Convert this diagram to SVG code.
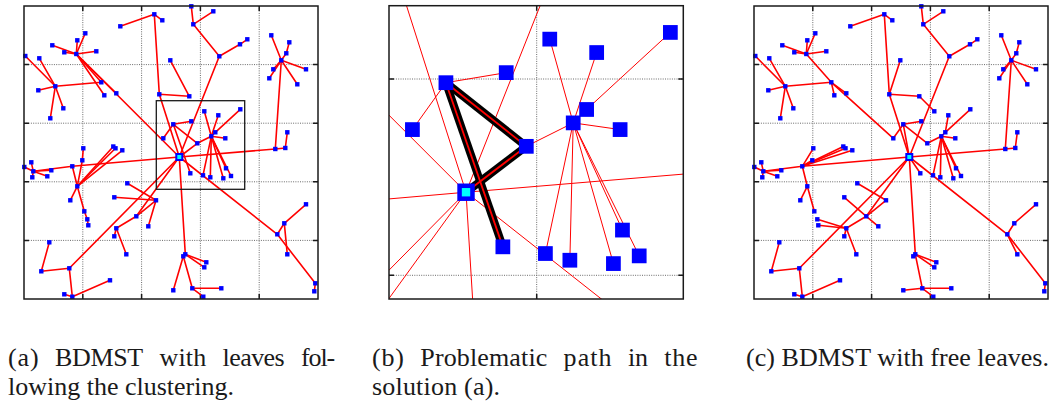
<svg xmlns="http://www.w3.org/2000/svg" xmlns:xlink="http://www.w3.org/1999/xlink" width="1056" height="407" viewBox="0 0 1056 407">
<style>
line{vector-effect:non-scaling-stroke}
.ed{stroke:#ff0000;stroke-linecap:round}
.gr{stroke:#6a6a6a;stroke-width:1;stroke-dasharray:1 1.3;fill:none}
.fr{fill:none;stroke:#1a1a1a;stroke-width:1.5}
.tk{stroke:#1a1a1a;stroke-width:1.5}
.nd{fill:#0000ff}
.cap{font-family:"Liberation Serif","Times New Roman",serif;font-size:26px;fill:#1a1a1a}
</style>
<defs>
<rect id="sq" class="nd" x="-2.2" y="-2.2" width="4.4" height="4.4"/>
<g id="nodes">
<use href="#sq" x="191.3" y="6.3"/><use href="#sq" x="213.3" y="11.3"/><use href="#sq" x="154.3" y="14.3"/><use href="#sq" x="162.3" y="20.3"/><use href="#sq" x="193.3" y="24.3"/><use href="#sq" x="120.3" y="26.3"/><use href="#sq" x="85.3" y="33.3"/><use href="#sq" x="77.3" y="40.3"/><use href="#sq" x="247.3" y="39.3"/><use href="#sq" x="240" y="44.3"/>
<use href="#sq" x="271.3" y="35.3"/><use href="#sq" x="289.3" y="42.3"/><use href="#sq" x="52.3" y="45.3"/><use href="#sq" x="64.3" y="52.3"/><use href="#sq" x="76.3" y="54"/><use href="#sq" x="96.3" y="51.3"/><use href="#sq" x="25.3" y="56"/><use href="#sq" x="39.3" y="58.3"/><use href="#sq" x="219.3" y="56.3"/><use href="#sq" x="286.3" y="53.3"/>
<use href="#sq" x="281.3" y="60.3"/><use href="#sq" x="170.3" y="60.3"/><use href="#sq" x="306" y="69.3"/><use href="#sq" x="273.3" y="69.3"/><use href="#sq" x="269.3" y="78.3"/><use href="#sq" x="297.3" y="84.3"/><use href="#sq" x="101.3" y="82.3"/><use href="#sq" x="55.3" y="86.3"/><use href="#sq" x="38.3" y="90.3"/><use href="#sq" x="104.3" y="95.3"/>
<use href="#sq" x="116.3" y="93.3"/><use href="#sq" x="159.3" y="94.3"/><use href="#sq" x="189.3" y="96.3"/><use href="#sq" x="63.3" y="108.3"/><use href="#sq" x="204.3" y="111.3"/><use href="#sq" x="240.3" y="109.3"/><use href="#sq" x="218.3" y="115.3"/><use href="#sq" x="50.3" y="118.3"/><use href="#sq" x="191.3" y="121.3"/><use href="#sq" x="173.3" y="124.3"/>
<use href="#sq" x="215.3" y="132.3"/><use href="#sq" x="211.3" y="136.3"/><use href="#sq" x="225.3" y="138.3"/><use href="#sq" x="163.3" y="138.3"/><use href="#sq" x="197.3" y="143.3"/><use href="#sq" x="287.3" y="132.3"/><use href="#sq" x="83.3" y="148.3"/><use href="#sq" x="113.3" y="146.5"/><use href="#sq" x="115.5" y="148.3"/><use href="#sq" x="122.3" y="150.3"/>
<use href="#sq" x="275.3" y="149"/><use href="#sq" x="285.3" y="148"/><use href="#sq" x="24.3" y="167"/><use href="#sq" x="31.3" y="162.3"/><use href="#sq" x="33.3" y="171.3"/><use href="#sq" x="32.3" y="177.3"/><use href="#sq" x="51.3" y="170.3"/><use href="#sq" x="47.3" y="176.3"/><use href="#sq" x="72.3" y="166.3"/><use href="#sq" x="82.3" y="160.3"/>
<use href="#sq" x="77.3" y="186.3"/><use href="#sq" x="70.3" y="200.3"/><use href="#sq" x="84.3" y="211.3"/><use href="#sq" x="87.3" y="219.3"/><use href="#sq" x="88.3" y="225.3"/><use href="#sq" x="127.3" y="183.3"/><use href="#sq" x="114.3" y="197.3"/><use href="#sq" x="156" y="200.3"/><use href="#sq" x="136.3" y="216.3"/><use href="#sq" x="148.3" y="226.3"/>
<use href="#sq" x="116.3" y="228.3"/><use href="#sq" x="114.3" y="236.3"/><use href="#sq" x="126.3" y="254.3"/><use href="#sq" x="190.3" y="173.3"/><use href="#sq" x="203" y="175.3"/><use href="#sq" x="210.3" y="177.3"/><use href="#sq" x="223.3" y="178.3"/><use href="#sq" x="226" y="168.3"/><use href="#sq" x="231" y="176"/><use href="#sq" x="306" y="204.3"/>
<use href="#sq" x="284.3" y="223.3"/><use href="#sq" x="277.3" y="234.3"/><use href="#sq" x="287.3" y="254.3"/><use href="#sq" x="315.3" y="283.3"/><use href="#sq" x="314.3" y="291.3"/><use href="#sq" x="49.3" y="242.3"/><use href="#sq" x="41.3" y="271.3"/><use href="#sq" x="69.3" y="268.3"/><use href="#sq" x="64.3" y="294.3"/><use href="#sq" x="72.3" y="296.7"/>
<use href="#sq" x="110" y="280.3"/><use href="#sq" x="185.3" y="254.3"/><use href="#sq" x="183.3" y="256.3"/><use href="#sq" x="206.3" y="262.3"/><use href="#sq" x="204.3" y="267.3"/><use href="#sq" x="173.3" y="290.3"/><use href="#sq" x="192.3" y="288.3"/><use href="#sq" x="221.3" y="288.3"/><use href="#sq" x="203.3" y="296.7"/>
</g>
<g id="ea" class="ed">
<line x1="191.3" y1="6.3" x2="193.3" y2="24.3"/><line x1="213.3" y1="11.3" x2="193.3" y2="24.3"/><line x1="193.3" y1="24.3" x2="219.3" y2="56.3"/><line x1="219.3" y1="56.3" x2="240" y2="44.3"/><line x1="240" y1="44.3" x2="247.3" y2="39.3"/><line x1="219.3" y1="56.3" x2="179.3" y2="157"/>
<line x1="154.3" y1="14.3" x2="120.3" y2="26.3"/><line x1="154.3" y1="14.3" x2="162.3" y2="20.3"/><line x1="154.3" y1="14.3" x2="159.3" y2="94.3"/><line x1="170.3" y1="60.3" x2="189.3" y2="96.3"/><line x1="159.3" y1="94.3" x2="189.3" y2="96.3"/><line x1="159.3" y1="94.3" x2="179.3" y2="157"/>
<line x1="76.3" y1="54" x2="52.3" y2="45.3"/><line x1="76.3" y1="54" x2="64.3" y2="52.3"/><line x1="76.3" y1="54" x2="96.3" y2="51.3"/><line x1="76.3" y1="54" x2="77.3" y2="40.3"/><line x1="76.3" y1="54" x2="85.3" y2="33.3"/><line x1="76.3" y1="54" x2="101.3" y2="82.3"/><line x1="76.3" y1="54" x2="104.3" y2="95.3"/><line x1="76.3" y1="54" x2="116.3" y2="93.3"/><line x1="76.3" y1="54" x2="179.3" y2="157"/>
<line x1="55.3" y1="86.3" x2="25.3" y2="56"/><line x1="55.3" y1="86.3" x2="39.3" y2="58.3"/><line x1="55.3" y1="86.3" x2="38.3" y2="90.3"/><line x1="55.3" y1="86.3" x2="63.3" y2="108.3"/><line x1="55.3" y1="86.3" x2="50.3" y2="118.3"/><line x1="55.3" y1="86.3" x2="101.3" y2="82.3"/>
<line x1="281.3" y1="60.3" x2="271.3" y2="35.3"/><line x1="281.3" y1="60.3" x2="286.3" y2="53.3"/><line x1="286.3" y1="53.3" x2="289.3" y2="42.3"/><line x1="281.3" y1="60.3" x2="306" y2="69.3"/><line x1="281.3" y1="60.3" x2="273.3" y2="69.3"/><line x1="281.3" y1="60.3" x2="269.3" y2="78.3"/><line x1="281.3" y1="60.3" x2="297.3" y2="84.3"/><line x1="281.3" y1="60.3" x2="275.3" y2="149"/><line x1="275.3" y1="149" x2="285.3" y2="148"/><line x1="285.3" y1="148" x2="287.3" y2="132.3"/><line x1="179.3" y1="157" x2="275.3" y2="149"/>
<line x1="173.3" y1="124.3" x2="191.3" y2="121.3"/><line x1="173.3" y1="124.3" x2="163.3" y2="138.3"/><line x1="173.3" y1="124.3" x2="197.3" y2="143.3"/><line x1="173.3" y1="124.3" x2="190.3" y2="173.3"/><line x1="197.3" y1="143.3" x2="179.3" y2="157"/><line x1="197.3" y1="143.3" x2="211.3" y2="136.3"/>
<line x1="211.3" y1="136.3" x2="215.3" y2="132.3"/><line x1="211.3" y1="136.3" x2="225.3" y2="138.3"/><line x1="211.3" y1="136.3" x2="204.3" y2="111.3"/><line x1="211.3" y1="136.3" x2="218.3" y2="115.3"/><line x1="215.3" y1="132.3" x2="240.3" y2="109.3"/>
<line x1="211.3" y1="136.3" x2="203" y2="175.3"/><line x1="211.3" y1="136.3" x2="210.3" y2="177.3"/><line x1="211.3" y1="136.3" x2="223.3" y2="178.3"/><line x1="211.3" y1="136.3" x2="226" y2="168.3"/><line x1="211.3" y1="136.3" x2="231" y2="176"/>
<line x1="24.3" y1="167" x2="33.3" y2="171.3"/><line x1="31.3" y1="162.3" x2="33.3" y2="171.3"/><line x1="33.3" y1="171.3" x2="32.3" y2="177.3"/><line x1="33.3" y1="171.3" x2="51.3" y2="170.3"/><line x1="33.3" y1="171.3" x2="47.3" y2="176.3"/><line x1="33.3" y1="171.3" x2="72.3" y2="166.3"/><line x1="72.3" y1="166.3" x2="179.3" y2="157"/>
<line x1="77.3" y1="186.3" x2="72.3" y2="166.3"/><line x1="77.3" y1="186.3" x2="82.3" y2="160.3"/><line x1="82.3" y1="160.3" x2="83.3" y2="148.3"/><line x1="77.3" y1="186.3" x2="70.3" y2="200.3"/><line x1="77.3" y1="186.3" x2="84.3" y2="211.3"/><line x1="84.3" y1="211.3" x2="87.3" y2="219.3"/><line x1="87.3" y1="219.3" x2="88.3" y2="225.3"/><line x1="77.3" y1="186.3" x2="113.3" y2="146.5"/><line x1="77.3" y1="186.3" x2="115.5" y2="148.3"/><line x1="77.3" y1="186.3" x2="122.3" y2="150.3"/>
<line x1="127.3" y1="183.3" x2="156" y2="200.3"/><line x1="114.3" y1="197.3" x2="156" y2="200.3"/><line x1="156" y1="200.3" x2="148.3" y2="226.3"/><line x1="156" y1="200.3" x2="136.3" y2="216.3"/><line x1="136.3" y1="216.3" x2="116.3" y2="228.3"/><line x1="116.3" y1="228.3" x2="114.3" y2="236.3"/><line x1="116.3" y1="228.3" x2="126.3" y2="254.3"/><line x1="179.3" y1="157" x2="136.3" y2="216.3"/>
<line x1="179.3" y1="157" x2="69.3" y2="268.3"/><line x1="49.3" y1="242.3" x2="41.3" y2="271.3"/><line x1="41.3" y1="271.3" x2="69.3" y2="268.3"/><line x1="69.3" y1="268.3" x2="72.3" y2="296.7"/><line x1="64.3" y1="294.3" x2="72.3" y2="296.7"/><line x1="72.3" y1="296.7" x2="110" y2="280.3"/>
<line x1="179.3" y1="157" x2="185.3" y2="254.3"/><line x1="185.3" y1="254.3" x2="183.3" y2="256.3"/><line x1="185.3" y1="254.3" x2="206.3" y2="262.3"/><line x1="185.3" y1="254.3" x2="204.3" y2="267.3"/><line x1="183.3" y1="256.3" x2="173.3" y2="290.3"/><line x1="183.3" y1="256.3" x2="192.3" y2="288.3"/><line x1="192.3" y1="288.3" x2="221.3" y2="288.3"/><line x1="192.3" y1="288.3" x2="203.3" y2="296.7"/>
<line x1="179.3" y1="157" x2="277.3" y2="234.3"/><line x1="277.3" y1="234.3" x2="284.3" y2="223.3"/><line x1="284.3" y1="223.3" x2="306" y2="204.3"/><line x1="284.3" y1="223.3" x2="287.3" y2="254.3"/><line x1="277.3" y1="234.3" x2="315.3" y2="283.3"/><line x1="315.3" y1="283.3" x2="314.3" y2="291.3"/>
</g>
<g id="ec" class="ed">
<line x1="191.3" y1="6.3" x2="193.3" y2="24.3"/><line x1="213.3" y1="11.3" x2="193.3" y2="24.3"/><line x1="193.3" y1="24.3" x2="219.3" y2="56.3"/><line x1="219.3" y1="56.3" x2="240" y2="44.3"/><line x1="240" y1="44.3" x2="247.3" y2="39.3"/><line x1="219.3" y1="56.3" x2="179.3" y2="157"/>
<line x1="154.3" y1="14.3" x2="120.3" y2="26.3"/><line x1="154.3" y1="14.3" x2="162.3" y2="20.3"/><line x1="154.3" y1="14.3" x2="159.3" y2="94.3"/><line x1="170.3" y1="60.3" x2="159.3" y2="94.3"/><line x1="159.3" y1="94.3" x2="189.3" y2="96.3"/><line x1="189.3" y1="96.3" x2="204.3" y2="111.3"/><line x1="159.3" y1="94.3" x2="179.3" y2="157"/>
<line x1="76.3" y1="54" x2="52.3" y2="45.3"/><line x1="76.3" y1="54" x2="64.3" y2="52.3"/><line x1="76.3" y1="54" x2="96.3" y2="51.3"/><line x1="76.3" y1="54" x2="77.3" y2="40.3"/><line x1="76.3" y1="54" x2="85.3" y2="33.3"/><line x1="76.3" y1="54" x2="101.3" y2="82.3"/><line x1="101.3" y1="82.3" x2="104.3" y2="95.3"/><line x1="101.3" y1="82.3" x2="116.3" y2="93.3"/><line x1="101.3" y1="82.3" x2="163.3" y2="138.3"/>
<line x1="55.3" y1="86.3" x2="25.3" y2="56"/><line x1="55.3" y1="86.3" x2="39.3" y2="58.3"/><line x1="55.3" y1="86.3" x2="38.3" y2="90.3"/><line x1="55.3" y1="86.3" x2="63.3" y2="108.3"/><line x1="55.3" y1="86.3" x2="50.3" y2="118.3"/><line x1="55.3" y1="86.3" x2="101.3" y2="82.3"/>
<line x1="281.3" y1="60.3" x2="271.3" y2="35.3"/><line x1="281.3" y1="60.3" x2="286.3" y2="53.3"/><line x1="286.3" y1="53.3" x2="289.3" y2="42.3"/><line x1="281.3" y1="60.3" x2="306" y2="69.3"/><line x1="281.3" y1="60.3" x2="273.3" y2="69.3"/><line x1="281.3" y1="60.3" x2="269.3" y2="78.3"/><line x1="281.3" y1="60.3" x2="297.3" y2="84.3"/><line x1="281.3" y1="60.3" x2="275.3" y2="149"/><line x1="275.3" y1="149" x2="285.3" y2="148"/><line x1="285.3" y1="148" x2="287.3" y2="132.3"/><line x1="179.3" y1="157" x2="275.3" y2="149"/>
<line x1="163.3" y1="138.3" x2="173.3" y2="124.3"/><line x1="173.3" y1="124.3" x2="191.3" y2="121.3"/><line x1="173.3" y1="124.3" x2="197.3" y2="143.3"/><line x1="173.3" y1="124.3" x2="179.3" y2="157"/><line x1="197.3" y1="143.3" x2="211.3" y2="136.3"/>
<line x1="211.3" y1="136.3" x2="215.3" y2="132.3"/><line x1="211.3" y1="136.3" x2="225.3" y2="138.3"/><line x1="215.3" y1="132.3" x2="218.3" y2="115.3"/><line x1="215.3" y1="132.3" x2="240.3" y2="109.3"/>
<line x1="179.3" y1="157" x2="190.3" y2="173.3"/><line x1="211.3" y1="136.3" x2="203" y2="175.3"/><line x1="211.3" y1="136.3" x2="210.3" y2="177.3"/><line x1="211.3" y1="136.3" x2="223.3" y2="178.3"/><line x1="211.3" y1="136.3" x2="226" y2="168.3"/><line x1="211.3" y1="136.3" x2="231" y2="176"/>
<line x1="24.3" y1="167" x2="33.3" y2="171.3"/><line x1="31.3" y1="162.3" x2="33.3" y2="171.3"/><line x1="33.3" y1="171.3" x2="32.3" y2="177.3"/><line x1="33.3" y1="171.3" x2="51.3" y2="170.3"/><line x1="33.3" y1="171.3" x2="47.3" y2="176.3"/><line x1="33.3" y1="171.3" x2="72.3" y2="166.3"/><line x1="72.3" y1="166.3" x2="179.3" y2="157"/>
<line x1="72.3" y1="166.3" x2="77.3" y2="186.3"/><line x1="72.3" y1="166.3" x2="82.3" y2="160.3"/><line x1="72.3" y1="166.3" x2="83.3" y2="148.3"/><line x1="72.3" y1="166.3" x2="113.3" y2="146.5"/><line x1="72.3" y1="166.3" x2="115.5" y2="148.3"/><line x1="72.3" y1="166.3" x2="122.3" y2="150.3"/><line x1="77.3" y1="186.3" x2="70.3" y2="200.3"/><line x1="77.3" y1="186.3" x2="84.3" y2="211.3"/>
<line x1="87.3" y1="219.3" x2="116.3" y2="228.3"/><line x1="88.3" y1="225.3" x2="116.3" y2="228.3"/><line x1="116.3" y1="228.3" x2="114.3" y2="236.3"/><line x1="116.3" y1="228.3" x2="126.3" y2="254.3"/><line x1="136.3" y1="216.3" x2="116.3" y2="228.3"/><line x1="114.3" y1="197.3" x2="136.3" y2="216.3"/><line x1="136.3" y1="216.3" x2="148.3" y2="226.3"/><line x1="136.3" y1="216.3" x2="156" y2="200.3"/><line x1="127.3" y1="183.3" x2="156" y2="200.3"/><line x1="179.3" y1="157" x2="136.3" y2="216.3"/>
<line x1="179.3" y1="157" x2="69.3" y2="268.3"/><line x1="49.3" y1="242.3" x2="41.3" y2="271.3"/><line x1="41.3" y1="271.3" x2="69.3" y2="268.3"/><line x1="69.3" y1="268.3" x2="72.3" y2="296.7"/><line x1="64.3" y1="294.3" x2="72.3" y2="296.7"/><line x1="72.3" y1="296.7" x2="110" y2="280.3"/>
<line x1="179.3" y1="157" x2="185.3" y2="254.3"/><line x1="185.3" y1="254.3" x2="183.3" y2="256.3"/><line x1="185.3" y1="254.3" x2="206.3" y2="262.3"/><line x1="185.3" y1="254.3" x2="204.3" y2="267.3"/><line x1="185.3" y1="254.3" x2="192.3" y2="288.3"/><line x1="173.3" y1="290.3" x2="192.3" y2="288.3"/><line x1="192.3" y1="288.3" x2="221.3" y2="288.3"/><line x1="192.3" y1="288.3" x2="203.3" y2="296.7"/>
<line x1="179.3" y1="157" x2="277.3" y2="234.3"/><line x1="277.3" y1="234.3" x2="284.3" y2="223.3"/><line x1="284.3" y1="223.3" x2="306" y2="204.3"/><line x1="277.3" y1="234.3" x2="287.3" y2="254.3"/><line x1="277.3" y1="234.3" x2="315.3" y2="283.3"/><line x1="315.3" y1="283.3" x2="314.3" y2="291.3"/>
</g>
<g id="grid">
<path class="gr" d="M82.8 6V299M141.6 6V299M200.4 6V299M259.2 6V299M24 64.6H318M24 123.2H318M24 181.8H318M24 240.4H318"/>
<path class="tk" d="M82.8 6v5M141.6 6v5M200.4 6v5M259.2 6v5M82.8 299v-5M141.6 299v-5M200.4 299v-5M259.2 299v-5M24 64.6h5M24 123.2h5M24 181.8h5M24 240.4h5M318 64.6h-5M318 123.2h-5M318 181.8h-5M318 240.4h-5"/>
</g>
<clipPath id="cb"><rect x="389" y="5.7" width="294.3" height="293.3"/></clipPath>
</defs>

<g id="panel-a">
<use href="#grid"/>
<use href="#ea" stroke-width="1.6"/>
<use href="#nodes"/>
<rect id="root-a" x="175.3" y="153" width="8" height="8" fill="#0000ff"/>
<rect x="177.3" y="155" width="4" height="4" fill="#00ffff"/>
<rect x="24" y="6" width="294" height="293" class="fr"/>
<rect id="zoom-box" x="156.3" y="100.7" width="88.4" height="88.6" fill="none" stroke="#1a1a1a" stroke-width="1.3"/>
</g>

<g id="panel-b">
<g clip-path="url(#cb)">
<path class="gr" d="M536.7 5.7V299M389 79H683.3M389 275.3H683.3"/>
<g transform="matrix(3.35 0 0 3.35 -134.64 -333.72)">
<use href="#ea" stroke-width="1"/>
<g id="bad-path" stroke-linecap="butt">
<line x1="190.3" y1="173.3" x2="173.3" y2="124.3" stroke="#000" stroke-width="8"/>
<line x1="173.3" y1="124.3" x2="197.3" y2="143.3" stroke="#000" stroke-width="8"/>
<line x1="197.3" y1="143.3" x2="179.3" y2="157" stroke="#000" stroke-width="8"/>
<line x1="190.3" y1="173.3" x2="173.3" y2="124.3" stroke="#ff0000" stroke-width="1.8"/>
<line x1="173.3" y1="124.3" x2="197.3" y2="143.3" stroke="#ff0000" stroke-width="1.8"/>
<line x1="197.3" y1="143.3" x2="179.3" y2="157" stroke="#ff0000" stroke-width="1.8"/>
</g>
<use href="#nodes"/>
<rect id="root-b" x="176.7" y="154.4" width="5.2" height="5.2" fill="#0000ff"/>
<rect x="178.05" y="155.75" width="2.5" height="2.5" fill="#00ffff"/>
</g>
</g>
<path class="tk" d="M536.7 5.7v5M536.7 299v-5M389 79h5M389 275.3h5M683.3 79h-5M683.3 275.3h-5"/>
<rect x="389" y="5.7" width="294.3" height="293.3" class="fr"/>
</g>

<g id="panel-c" transform="translate(730 0)">
<use href="#grid"/>
<use href="#ec" stroke-width="1.6"/>
<use href="#nodes"/>
<rect id="root-c" x="175.3" y="153" width="8" height="8" fill="#0000ff"/>
<rect x="177.3" y="155" width="4" height="4" fill="#00ffff"/>
<rect x="24" y="6" width="294" height="293" class="fr"/>
</g>

<g id="captions" class="cap">
<text x="8" y="366" textLength="30.7" lengthAdjust="spacing">(a)</text>
<text x="55.1" y="366" textLength="88" lengthAdjust="spacing">BDMST</text>
<text x="159.5" y="366" textLength="46.7" lengthAdjust="spacing">with</text>
<text x="222.6" y="366" textLength="62.1" lengthAdjust="spacing">leaves</text>
<text x="301.1" y="366" textLength="34" lengthAdjust="spacing">fol-</text>
<text x="8" y="395" textLength="226" lengthAdjust="spacing">lowing the clustering.</text>
<text x="372" y="366" textLength="32" lengthAdjust="spacing">(b)</text>
<text x="420.3" y="366" textLength="127" lengthAdjust="spacing">Problematic</text>
<text x="563.6" y="366" textLength="48" lengthAdjust="spacing">path</text>
<text x="627.9" y="366" textLength="20" lengthAdjust="spacing">in</text>
<text x="664.2" y="366" textLength="33.3" lengthAdjust="spacing">the</text>
<text x="372" y="395" textLength="128" lengthAdjust="spacing">solution (a).</text>
<text x="746" y="366" textLength="303" lengthAdjust="spacing">(c) BDMST with free leaves.</text>
</g>
</svg>
